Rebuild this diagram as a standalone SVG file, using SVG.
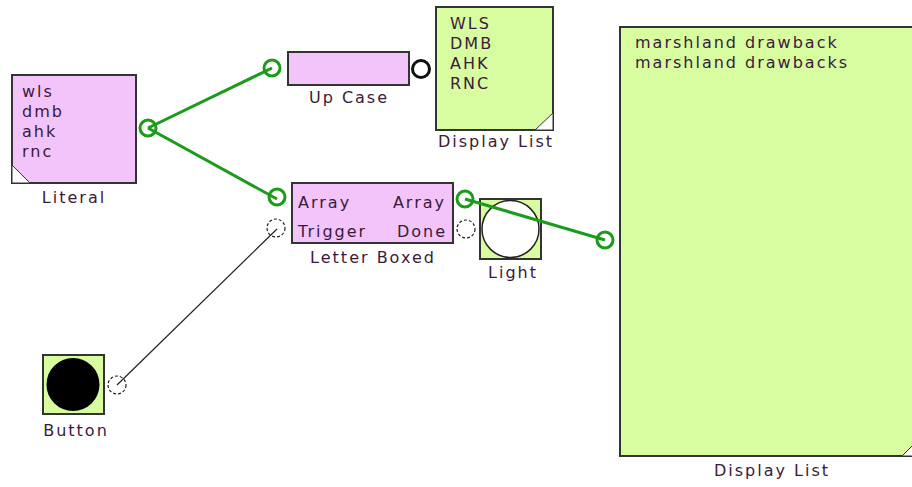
<svg xmlns="http://www.w3.org/2000/svg" width="912" height="487" viewBox="0 0 912 487">
<style>
text{font-family:"DejaVu Sans",Verdana,sans-serif;font-size:16px;fill:#3a1a3a;letter-spacing:2px}
.lbl{text-anchor:middle}
.pink{fill:#f2c4fa;stroke:#333;stroke-width:2}
.green{fill:#d8fca0;stroke:#333;stroke-width:2}
.gp{fill:none;stroke:#1a9c1a;stroke-width:3}
.dp{fill:#fff;stroke:#222;stroke-width:1.2;stroke-dasharray:3 2}
.wire{stroke:#1a9c1a;stroke-width:3;fill:none}
.wireb{stroke:#222;stroke-width:1.2;fill:none}
.corner{fill:#fff;stroke:#333;stroke-width:1}
</style>
<rect width="912" height="487" fill="#fff"/>
<g id="literal">
<rect class="pink" x="12" y="75" width="124" height="108"/>
<path class="corner" d="M12,165 L30,183 L12,183 Z"/>
<text x="22" y="97">wls</text>
<text x="22" y="117">dmb</text>
<text x="22" y="137">ahk</text>
<text x="22" y="157">rnc</text>
<text class="lbl" x="74" y="203">Literal</text>
</g>
<g id="upcase">
<rect class="pink" x="288" y="52" width="121" height="33"/>
<text class="lbl" x="349" y="103">Up Case</text>
</g>
<g id="display1">
<rect class="green" x="436" y="7" width="117" height="123"/>
<path class="corner" d="M553,113 L553,130 L535,130 Z"/>
<text x="450" y="29">WLS</text>
<text x="450" y="49">DMB</text>
<text x="450" y="69">AHK</text>
<text x="450" y="89">RNC</text>
<text class="lbl" x="496" y="147">Display List</text>
</g>
<g id="letterboxed">
<rect class="pink" x="292" y="183" width="161" height="60"/>
<text x="298" y="208">Array</text>
<text x="298" y="237">Trigger</text>
<text x="446" y="208" text-anchor="end">Array</text>
<text x="447" y="237" text-anchor="end">Done</text>
<text class="lbl" x="373" y="263">Letter Boxed</text>
</g>
<g id="light">
<rect class="green" x="480" y="199" width="61" height="60"/>
<circle cx="510.5" cy="229" r="28.5" fill="#fff" stroke="#222" stroke-width="1.5"/>
<text class="lbl" x="513" y="278">Light</text>
</g>
<g id="button">
<rect class="green" x="43" y="355" width="61" height="59"/>
<circle cx="73" cy="384.5" r="26.5" fill="#000"/>
<text class="lbl" x="76" y="436">Button</text>
</g>
<g id="display2">
<rect class="green" x="620" y="27" width="300" height="429"/>
<path class="corner" d="M920,438 L920,456 L902,456 Z"/>
<text x="635" y="48">marshland drawback</text>
<text x="635" y="68">marshland drawbacks</text>
<text class="lbl" x="772" y="476">Display List</text>
</g>
<g id="connectors">
<line class="wire" x1="148" y1="128" x2="272" y2="68"/>
<line class="wire" x1="148" y1="128" x2="277" y2="199"/>
<line class="wire" x1="465" y1="199" x2="605" y2="240"/>
<line class="wireb" x1="117" y1="385" x2="277" y2="229"/>
</g>
<g id="ports">
<circle class="gp" cx="148" cy="128" r="8"/>
<circle class="gp" cx="272" cy="68" r="8"/>
<circle cx="421" cy="69" r="8.5" fill="#fff" stroke="#111" stroke-width="3"/>
<circle class="gp" cx="277" cy="197" r="8"/>
<circle class="dp" cx="276" cy="228" r="9" fill-opacity="0"/>
<circle class="gp" cx="465" cy="199" r="8"/>
<circle class="dp" cx="466" cy="229" r="9"/>
<circle class="dp" cx="117" cy="385" r="9" fill-opacity="0"/>
<circle class="gp" cx="605" cy="240" r="8"/>
</g>
</svg>
